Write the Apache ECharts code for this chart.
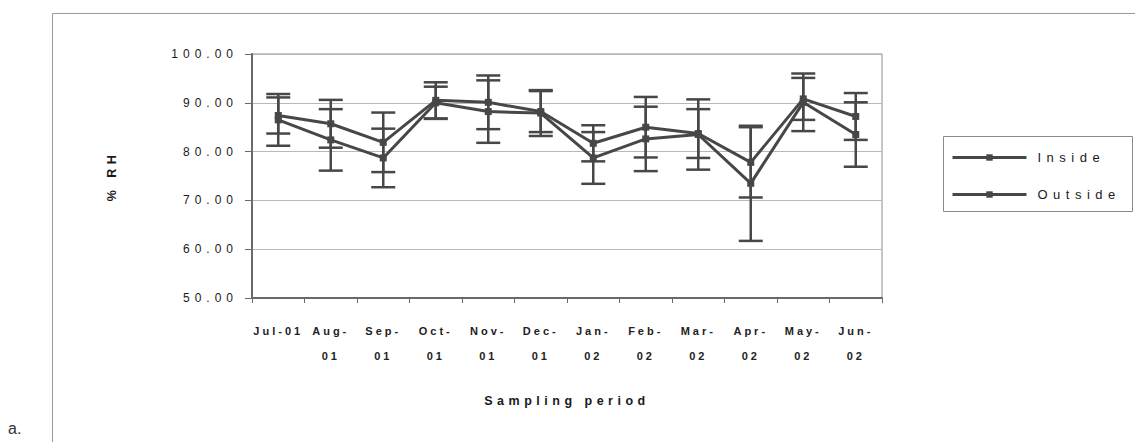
<!DOCTYPE html>
<html>
<head>
<meta charset="utf-8">
<script src="https://cdn.jsdelivr.net/npm/echarts@6/dist/echarts.min.js"></script>
<style>
  html, body { margin: 0; padding: 0; background: #fff; }
  #chart { width: 1135px; height: 442px; }
</style>
</head>
<body>
<div id="chart"></div>
<script>
// Monthly relative humidity, mean with error bars
const categories = ['Jul-01', 'Aug-01', 'Sep-01', 'Oct-01', 'Nov-01', 'Dec-01',
                    'Jan-02', 'Feb-02', 'Mar-02', 'Apr-02', 'May-02', 'Jun-02'];
const insideMean  = [87.4, 85.7, 81.9, 90.5, 90.1, 88.2, 81.7, 85.0, 83.7, 77.8, 90.8, 87.2];
const insideErr   = [3.7, 4.9, 6.1, 3.7, 5.5, 4.2, 3.7, 6.2, 5.0, 7.2, 4.3, 4.8];
const outsideMean = [86.5, 82.4, 78.7, 90.0, 88.2, 87.9, 78.7, 82.6, 83.5, 73.5, 90.1, 83.5];
const outsideErr  = [5.3, 6.3, 6.0, 3.3, 6.4, 4.7, 5.3, 6.6, 7.2, 11.8, 5.9, 6.6];
const yMin = 50, yMax = 100, yStep = 10;

const INK = '#474747';
const FONT = 'Liberation Sans, Arial, sans-serif';

function errorData(mean, err) {
  return mean.map((m, i) => [i, m - err[i], m + err[i]]);
}

function renderErrorBar(params, api) {
  const x = api.value(0);
  const lo = api.coord([x, api.value(1)]);
  const hi = api.coord([x, api.value(2)]);
  const half = 12;
  const style = { stroke: INK, lineWidth: 2.5, fill: null };
  return {
    type: 'group',
    children: [
      { type: 'line', shape: { x1: hi[0], y1: hi[1], x2: lo[0], y2: lo[1] }, style },
      { type: 'line', shape: { x1: hi[0] - half, y1: hi[1], x2: hi[0] + half, y2: hi[1] }, style },
      { type: 'line', shape: { x1: lo[0] - half, y1: lo[1], x2: lo[0] + half, y2: lo[1] }, style }
    ]
  };
}

function lineSeries(name, data) {
  return {
    name, type: 'line', data,
    symbol: 'rect', symbolSize: 7,
    lineStyle: { color: INK, width: 3 },
    itemStyle: { color: INK },
    z: 3
  };
}

const chart = echarts.init(document.getElementById('chart'), null, { renderer: 'svg' });

chart.setOption({
  animation: false,
  backgroundColor: '#fff',
  textStyle: { fontFamily: FONT },
  grid: {
    left: 252, top: 54, width: 630, height: 244,
    show: true, borderColor: '#8a8a8a', borderWidth: 1, backgroundColor: 'transparent'
  },
  xAxis: {
    type: 'category',
    data: categories,
    boundaryGap: true,
    name: 'Sampling period',
    nameLocation: 'middle',
    nameGap: 96,
    nameTextStyle: { fontSize: 12.5, fontWeight: 'bold', color: '#1a1a1a', fontFamily: FONT },
    axisLine: { lineStyle: { color: '#6a6a6a', width: 2 } },
    axisTick: { show: true, length: 5, lineStyle: { color: '#6a6a6a' } },
    axisLabel: {
      interval: 0, margin: 20, lineHeight: 25,
      fontSize: 11, fontWeight: 'bold', color: '#222', fontFamily: FONT,
      formatter: (v, i) => i === 0 ? v : v.replace('-', '-\n')
    }
  },
  yAxis: {
    type: 'value',
    min: yMin, max: yMax, interval: yStep,
    name: '% RH',
    nameLocation: 'middle',
    nameRotate: 90,
    nameGap: 134,
    nameTextStyle: { fontSize: 12.5, fontWeight: 'bold', color: '#1a1a1a', fontFamily: FONT },
    axisLine: { show: true, lineStyle: { color: '#6a6a6a', width: 2 } },
    axisTick: { show: true, length: 7, lineStyle: { color: '#6a6a6a' } },
    axisLabel: {
      margin: 14, fontSize: 12, color: '#1a1a1a', fontFamily: FONT,
      formatter: v => v.toFixed(2)
    },
    splitLine: { lineStyle: { color: '#b8b8b8', width: 1 } }
  },
  legend: {
    orient: 'vertical',
    left: 951, top: 151, padding: 0,
    itemWidth: 74, itemHeight: 8, itemGap: 24,
    lineStyle: { width: 3, color: INK },
    textStyle: { fontSize: 13, color: '#1a1a1a', fontFamily: FONT, padding: [0, 0, 0, 6] },
    data: ['Inside', 'Outside']
  },
  graphic: [
    { type: 'rect', shape: { x: 52.5, y: 13.5, width: 1200, height: 500 },
      style: { fill: null, stroke: '#9a9a9a', lineWidth: 1 }, silent: true, z: -10 },
    { type: 'rect', shape: { x: 943.5, y: 136.5, width: 189, height: 75 },
      style: { fill: '#fff', stroke: '#8a8a8a', lineWidth: 1 }, silent: true, z: -5 },
    { type: 'text', left: 8, top: 420,
      style: { text: 'a.', font: '16px ' + FONT, fill: '#333' } }
  ],
  series: [
    {
      type: 'custom', name: 'Inside error', renderItem: renderErrorBar,
      data: errorData(insideMean, insideErr), z: 2, silent: true
    },
    {
      type: 'custom', name: 'Outside error', renderItem: renderErrorBar,
      data: errorData(outsideMean, outsideErr), z: 2, silent: true
    },
    lineSeries('Inside', insideMean),
    lineSeries('Outside', outsideMean)
  ]
});

// Wide tracking on the chart lettering, keyed by font size
const tracking = { '11': '3px', '12': '5px', '12.5': '4.5px', '13': '5.5px' };
function applyTracking() {
  document.querySelectorAll('#chart text').forEach(t => {
    const size = String(parseFloat(getComputedStyle(t).fontSize));
    if (tracking[size]) t.style.letterSpacing = tracking[size];
  });
}
applyTracking();
chart.on('finished', applyTracking);
</script>
</body>
</html>
